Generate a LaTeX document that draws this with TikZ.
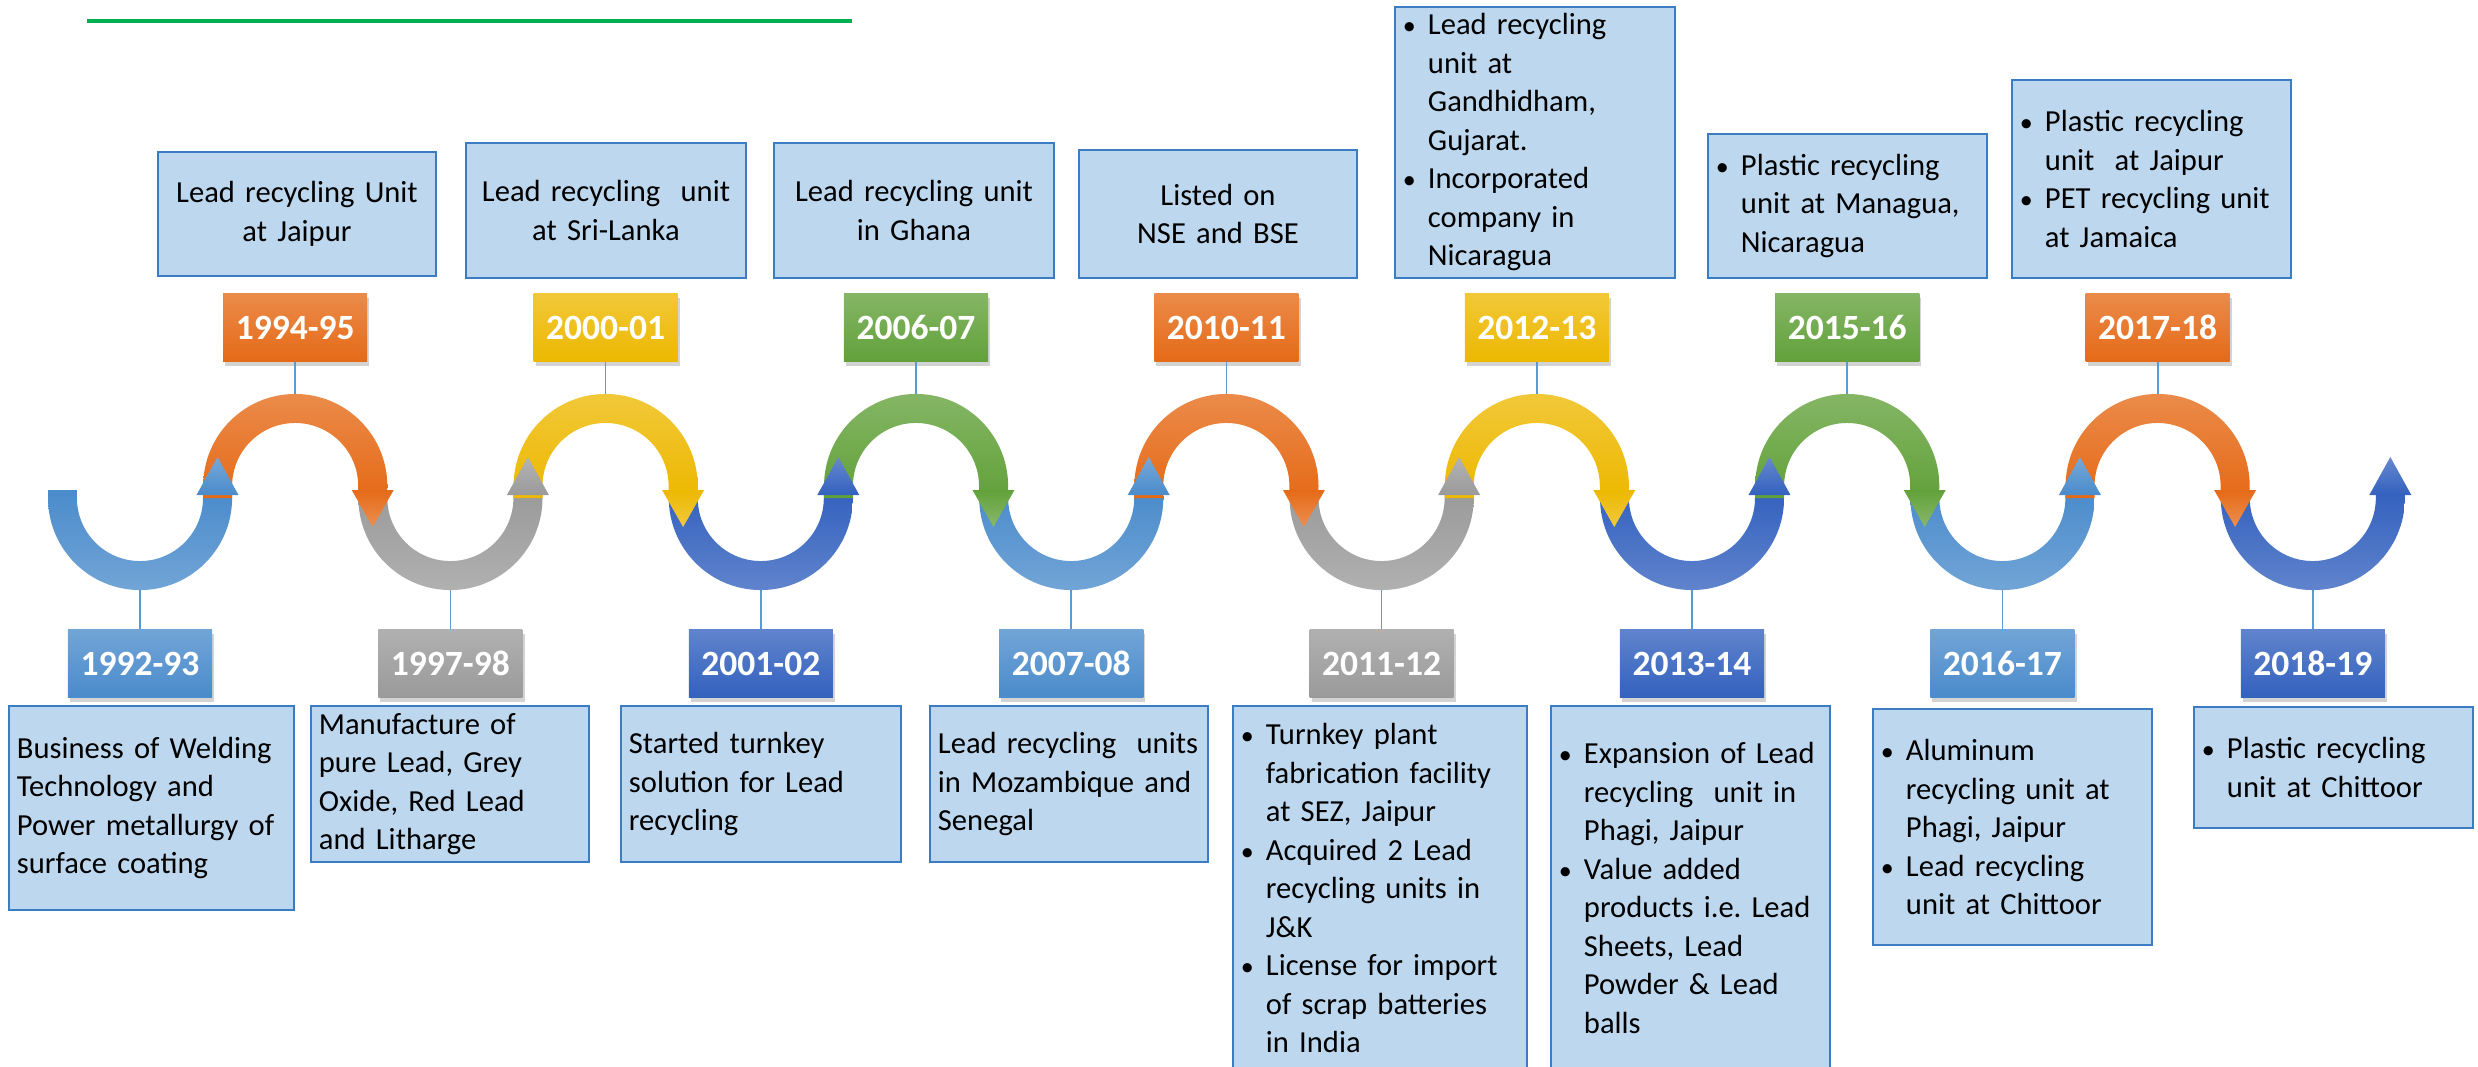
\documentclass[tikz,border=0pt]{standalone}
\usepackage{fontspec}
\setmainfont{Carlito}
\usepackage{tikz}
\usetikzlibrary{shadows}
\definecolor{lblue}{HTML}{4A8BCB}
\definecolor{orng}{HTML}{E56A17}
\definecolor{gry}{HTML}{9A9A9A}
\definecolor{yell}{HTML}{EDB800}
\definecolor{dblue}{HTML}{3361BE}
\definecolor{grn}{HTML}{62A13A}
\definecolor{boxfill}{HTML}{BDD7EE}
\definecolor{boxline}{HTML}{3B7CC2}
\definecolor{connline}{HTML}{5B9BD5}
\definecolor{topline}{HTML}{00B050}
\hyphenpenalty=10000
\newcommand{\blt}{\makebox[0.25cm][l]{\scalebox{0.85}{\textbullet}}}
\newcommand{\bind}{\hspace*{0.25cm}}
\newcommand{\arclist}{0/140/lblue/1992-93, 1/295.2/orng/1994-95,
    2/450.4/gry/1997-98, 3/605.6/yell/2000-01, 4/760.8/dblue/2001-02,
    5/916/grn/2006-07, 6/1071.2/lblue/2007-08, 7/1226.4/orng/2010-11,
    8/1381.6/gry/2011-12, 9/1536.8/yell/2012-13, 10/1692/dblue/2013-14,
    11/1847.2/grn/2015-16, 12/2002.4/lblue/2016-17, 13/2157.6/orng/2017-18,
    14/2312.8/dblue/2018-19}
\begin{document}
\begin{tikzpicture}[x=0.01cm,y=-0.01cm,
        descbox/.style={draw=boxline, fill=boxfill, line width=0.6pt,
            inner xsep=0.08cm, inner ysep=0pt,
            font=\fontsize{8.7}{10.95}\selectfont},
        yearbox/.style={minimum width=1.44cm, minimum height=0.68cm,
            inner sep=0pt, text=white,
            font=\fontsize{10.1}{12}\selectfont\bfseries,
            drop shadow={opacity=0.35,shadow xshift=0.6pt,shadow yshift=-1.2pt}},
        conn/.style={draw=connline, line width=0.5pt}]
    \useasboundingbox (0,0) rectangle (2478,1066);
    %top rule
    \draw[topline, line width=1.3pt] (87,21) -- (852,21);
    %upper boxes
    \node[descbox, anchor=south, text width=2.62cm, minimum height=1.24cm,
        align=center] (d1994) at (297,277)
        {Lead recycling Unit\\at Jaipur};
    \node[descbox, anchor=south, text width=2.64cm, minimum height=1.35cm,
        align=center] (d2000) at (606,279)
        {Lead recycling~ unit\\at Sri-Lanka};
    \node[descbox, anchor=south, text width=2.64cm, minimum height=1.35cm,
        align=center] (d2006) at (914,279)
        {Lead recycling unit\\in Ghana};
    \node[descbox, anchor=south, text width=2.62cm, minimum height=1.28cm,
        align=center] (d2010) at (1218,279)
        {Listed on\\NSE and BSE};
    \node[descbox, anchor=south, text width=2.64cm, minimum height=2.71cm,
        align=left] (d2012) at (1535,279)
        {\blt Lead recycling\\\bind unit at\\\bind Gandhidham,\\\bind Gujarat.\\
         \blt Incorporated\\\bind company in\\\bind Nicaragua};
    \node[descbox, anchor=south, text width=2.63cm, minimum height=1.44cm,
        align=left] (d2015) at (1847.5,279)
        {\blt Plastic recycling\\\bind unit at Managua,\\\bind Nicaragua};
    \node[descbox, anchor=south, text width=2.63cm, minimum height=1.98cm,
        align=left] (d2017) at (2151.5,279)
        {\blt Plastic recycling\\\bind unit~ at Jaipur\\
         \blt PET recycling unit\\\bind at Jamaica};
    %lower boxes
    \node[descbox, anchor=north, text width=2.69cm, minimum height=2.04cm,
        align=left] (d1992) at (151.5,705)
        {Business of Welding\\Technology and\\Power metallurgy of\\surface coating};
    \node[descbox, anchor=north, text width=2.62cm, minimum height=1.56cm,
        align=left] (d1997) at (450,705)
        {Manufacture of\\pure Lead, Grey\\Oxide, Red Lead\\and Litharge};
    \node[descbox, anchor=north, text width=2.64cm, minimum height=1.56cm,
        align=left] (d2001) at (761,705)
        {Started turnkey\\solution for Lead\\recycling};
    \node[descbox, anchor=north, text width=2.62cm, minimum height=1.56cm,
        align=left] (d2007) at (1069,705)
        {Lead recycling~ units\\in Mozambique and\\Senegal};
    \node[descbox, anchor=north, text width=2.78cm, minimum height=3.64cm,
        align=left] (d2011) at (1380,705)
        {\blt Turnkey plant\\\bind fabrication facility\\\bind at SEZ, Jaipur\\
         \blt Acquired 2 Lead\\\bind recycling units in\\\bind J\&K\\
         \blt License for import\\\bind of scrap batteries\\\bind in India};
    \node[descbox, anchor=north, text width=2.63cm, minimum height=3.64cm,
        align=left] (d2013) at (1690.5,705)
        {\blt Expansion of Lead\\\bind recycling~ unit in\\\bind Phagi, Jaipur\\
         \blt Value added\\\bind products i.e.\ Lead\\\bind Sheets, Lead\\
         \bind Powder \& Lead\\\bind balls};
    \node[descbox, anchor=north, text width=2.63cm, minimum height=2.36cm,
        align=left] (d2016) at (2012.5,708)
        {\blt Aluminum\\\bind recycling unit at\\\bind Phagi, Jaipur\\
         \blt Lead recycling\\\bind unit at Chittoor};
    \node[descbox, anchor=north, text width=2.63cm, minimum height=1.21cm,
        align=left] (d2018) at (2333.5,706)
        {\blt Plastic recycling\\\bind unit at Chittoor};
    %wave bands
    \foreach \i/\cx/\col/\yr in \arclist {
        \ifodd\i\relax
            \shade[top color=\col!78!white, bottom color=\col]
                ({\cx-92},498) -- ({\cx-92},486)
                arc[start angle=180, end angle=0, radius=0.92cm]
                -- ({\cx+92},490) -- ({\cx+63},490) -- ({\cx+63},486)
                arc[start angle=0, end angle=180, radius=0.63cm]
                -- ({\cx-63},498) -- cycle;
            \coordinate (arc\i) at (\cx,394);
        \else
            \shade[top color=\col, bottom color=\col!78!white]
                ({\cx-92},490) -- ({\cx-92},498)
                arc[start angle=180, end angle=360, radius=0.92cm]
                -- ({\cx+92},495) -- ({\cx+63},495) -- ({\cx+63},498)
                arc[start angle=0, end angle=-180, radius=0.63cm]
                -- ({\cx-63},490) -- cycle;
            \coordinate (arc\i) at (\cx,590);
        \fi
    }
    %arrow heads
    \foreach \i/\cx/\col/\yr in \arclist {
        \ifodd\i\relax
            \shade[top color=\col, bottom color=\col!75!white]
                ({\cx+56.5},490) -- ({\cx+98.5},490) -- ({\cx+77.5},527) -- cycle;
        \else
            \shade[top color=\col!75!white, bottom color=\col]
                ({\cx+56.5},495) -- ({\cx+98.5},495) -- ({\cx+77.5},457) -- cycle;
        \fi
    }
    %year labels
    \foreach \i/\cx/\col/\yr in \arclist {
        \ifodd\i\relax \def\yy{327.5}\else \def\yy{663.5}\fi
        \node[yearbox, top color=\col!78!white, bottom color=\col] (yr\i)
            at (\cx,\yy) {\yr};
        \draw[conn] (yr\i) -- (arc\i);
    }
\end{tikzpicture}
\end{document}
